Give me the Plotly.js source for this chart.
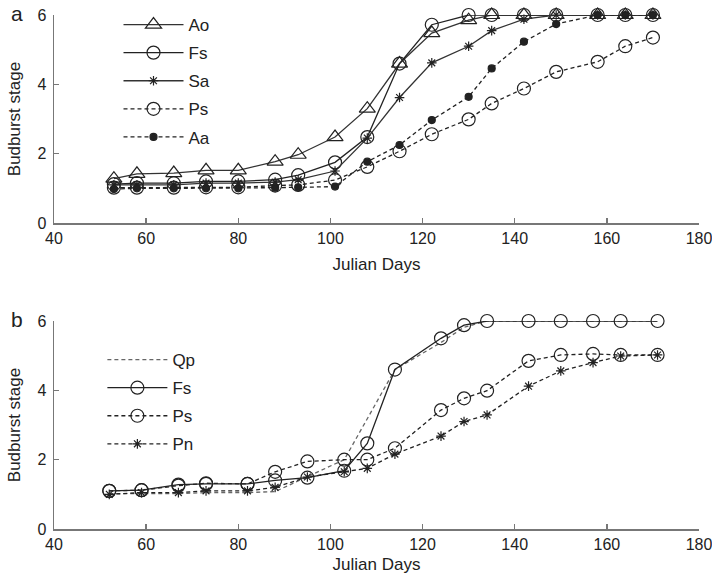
<!DOCTYPE html>
<html>
<head>
<meta charset="utf-8">
<script src="https://cdn.plot.ly/plotly-3.0.1.min.js"></script>
<style>html,body{margin:0;padding:0;background:#fff;}#chart{width:712px;height:582px;}</style>
</head>
<body>
<div id="chart"></div>
<script>
// Panel a
const daysA = [53, 58, 66, 73, 80, 88, 93, 101, 108, 115, 122, 130, 135, 142, 149, 158, 164, 170];
const aAo = [1.28, 1.42, 1.44, 1.52, 1.52, 1.77, 1.97, 2.48, 3.3, 4.6, 5.48, 5.85, 6, 6, 6, 6, 6, 6];
const aFs = [1.12, 1.15, 1.15, 1.2, 1.2, 1.25, 1.38, 1.75, 2.48, 4.6, 5.72, 6, 6, 6, 6, 6, 6, 6];
const aSa = [1.1, 1.1, 1.1, 1.15, 1.15, 1.18, 1.25, 1.5, 2.45, 3.62, 4.62, 5.1, 5.55, 5.88, 6, 6, 6, 6];
const aPs = [1.02, 1.02, 1.02, 1.03, 1.03, 1.08, 1.1, 1.24, 1.62, 2.07, 2.56, 2.99, 3.45, 3.88, 4.36, 4.65, 5.1, 5.35];
const aAa = [0.98, 1.0, 1.0, 1.0, 1.0, 1.02, 1.03, 1.05, 1.77, 2.25, 2.97, 3.64, 4.46, 5.23, 5.74, 6, 6, 6];
// Panel b
const daysB = [52, 59, 67, 73, 82, 88, 95, 103, 108, 114, 124, 129, 134, 143, 150, 157, 163, 171];
const bFs = [1.1, 1.12, 1.28, 1.3, 1.3, 1.4, 1.48, 1.68, 2.47, 4.6, 5.5, 5.88, 6, 6, 6, 6, 6, 6];
const bPs = [1.1, 1.12, 1.25, 1.32, 1.3, 1.65, 1.95, 2.0, 2.0, 2.33, 3.43, 3.77, 3.99, 4.85, 5.02, 5.05, 5.02, 5.02];
const bPn = [1.0, 1.05, 1.05, 1.1, 1.1, 1.2, 1.5, 1.65, 1.75, 2.16, 2.68, 3.1, 3.29, 4.12, 4.56, 4.8, 4.99, 5.02];
const daysQp = [52, 59, 67, 73, 82, 88, 95, 103, 114, 124, 129, 134, 143, 150, 157, 163, 171];
const bQp = [1.02, 1.02, 1.02, 1.05, 1.05, 1.08, 1.5, 2.0, 4.6, 5.38, 5.82, 6, 6, 6, 6, 6, 6];

const xTicks = [40, 60, 80, 100, 120, 140, 160, 180];
const yTicks = [0, 2, 4, 6];

const K = '#222';
function tr(x, y, name, dash, sym, size, fill, xa, ya, leg, lineColor) {
  const t = {
    x: x, y: y, name: name, type: 'scatter',
    mode: sym ? 'lines+markers' : 'lines',
    xaxis: xa, yaxis: ya, legend: leg, legendgroup: name + leg,
    cliponaxis: false,
    line: {color: lineColor || K, width: 1.3, dash: dash}
  };
  if (sym) t.marker = {symbol: sym, size: size, color: fill, line: {color: K, width: 1.2}};
  return t;
}

const data = [
  tr(daysA, aAo, 'Ao', 'solid', 'triangle-up-open', 14, K, 'x', 'y', 'legend', '#333'),
  tr(daysA, aFs, 'Fs', 'solid', 'circle-open', 13, K, 'x', 'y', 'legend'),
  tr(daysA, aSa, 'Sa', 'solid', 'asterisk-open', 8, K, 'x', 'y', 'legend', '#333'),
  tr(daysA, aPs, 'Ps', '4px,3px', 'circle-open', 13, K, 'x', 'y', 'legend'),
  tr(daysA, aAa, 'Aa', '4px,3px', 'circle', 7, K, 'x', 'y', 'legend'),
  tr(daysQp, bQp, 'Qp', '4px,3px', null, 0, K, 'x2', 'y2', 'legend2', '#666'),
  tr(daysB, bFs, 'Fs', 'solid', 'circle-open', 13, K, 'x2', 'y2', 'legend2'),
  tr(daysB, bPs, 'Ps', '4px,3px', 'circle-open', 13, K, 'x2', 'y2', 'legend2'),
  tr(daysB, bPn, 'Pn', '4px,3px', 'asterisk-open', 8, K, 'x2', 'y2', 'legend2')
];

const fontFam = 'Liberation Sans, Arial, sans-serif';
function xax(anchor, so) {
  return {
    anchor: anchor, domain: [0, 1], range: [40, 180], tickvals: xTicks,
    automargin: false,
    showline: true, linecolor: '#777', linewidth: 1.5, mirror: false,
    ticks: 'inside', ticklen: 5, tickcolor: '#777', tickwidth: 1.5,
    showgrid: false, zeroline: false, ticklabeloverflow: 'allow',
    tickfont: {family: fontFam, size: 16, color: K},
    title: {text: 'Julian Days', font: {family: fontFam, size: 17, color: K}, standoff: so}
  };
}
function yax(anchor, dom) {
  return {
    anchor: anchor, domain: dom, range: [0, 6], tickvals: yTicks,
    automargin: false,
    showline: true, linecolor: '#777', linewidth: 1.5,
    ticks: 'inside', ticklen: 5, tickcolor: '#777', tickwidth: 1.5,
    showgrid: false, zeroline: false, ticklabelstandoff: 3,
    tickfont: {family: fontFam, size: 16, color: K},
    title: {text: 'Budburst stage', font: {family: fontFam, size: 17, color: K}, standoff: 12}
  };
}

const legendBase = {
  font: {family: fontFam, size: 17, color: K},
  bgcolor: 'rgba(0,0,0,0)', borderwidth: 0,
  traceorder: 'grouped', tracegroupgap: 3, itemwidth: 60,
  xanchor: 'left', yanchor: 'top'
};

const layout = {
  width: 712, height: 582,
  margin: {l: 54, r: 13, t: 0, b: 53},
  paper_bgcolor: '#fff', plot_bgcolor: '#fff',
  showlegend: true,
  xaxis: xax('y', 12), yaxis: yax('x', [0.5784, 0.9716]),
  xaxis2: xax('y2', 6), yaxis2: yax('x2', [0, 0.3932]),
  legend: Object.assign({}, legendBase, {x: 0.1, y: 0.9868}),
  legend2: Object.assign({}, legendBase, {x: 0.075, y: 0.3535}),
  annotations: [
    {text: 'a', xref: 'paper', yref: 'paper', x: -0.058, y: 0.9754, showarrow: false,
     xanchor: 'center', yanchor: 'middle', font: {family: fontFam, size: 21, color: K}},
    {text: 'b', xref: 'paper', yref: 'paper', x: -0.058, y: 0.3951, showarrow: false,
     xanchor: 'center', yanchor: 'middle', font: {family: fontFam, size: 21, color: K}}
  ]
};

Plotly.newPlot('chart', data, layout, {displayModeBar: false, staticPlot: true});
</script>
</body>
</html>
